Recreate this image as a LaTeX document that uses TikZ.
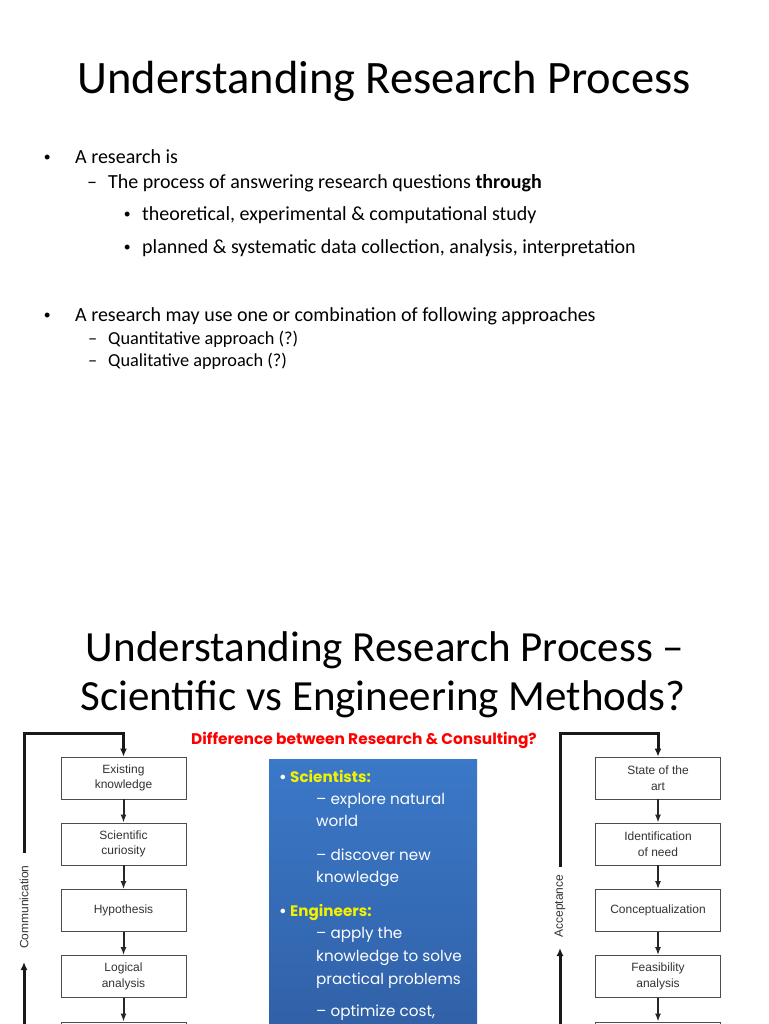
\documentclass[tikz,border=0pt]{standalone}
\usepackage{fontspec}
\setmainfont{Carlito}
\newfontfamily\arialf{Liberation Sans}
\newfontfamily\gothic{Poppins}
\usetikzlibrary{arrows.meta}
\definecolor{boxblueTop}{HTML}{3B78C8}
\definecolor{boxblueBot}{HTML}{3060A6}
\definecolor{labgray}{HTML}{333333}
\definecolor{ylw}{HTML}{F2F200}
\tikzset{
  stepbox/.style={draw=black!70, line width=0.8pt, minimum width=125pt, minimum height=42pt,
    font=\arialf\fontsize{12}{15.5}\selectfont, text=labgray, align=center, inner sep=0pt},
  arr/.style={draw=black!85, line width=2pt, -{Latex[length=8pt,width=6pt]}},
  fbarr/.style={draw=black!90, line width=3pt, -{Latex[length=8pt,width=7pt]}},
  sidelab/.style={rotate=90, font=\arialf\fontsize{12}{13}\selectfont, text=labgray, inner sep=0pt},
  body/.style={font=\fontsize{20}{24}\selectfont, anchor=base west, inner sep=0pt},
  small/.style={font=\fontsize{18.3}{22}\selectfont, anchor=base west, inner sep=0pt},
  dot/.style={font=\arialf\fontsize{18}{20}\selectfont, anchor=base west, inner sep=0pt},
  bluetxt/.style={font=\gothic\fontsize{15.2}{18}\selectfont, text=white, anchor=base west, inner sep=0pt},
  ylwtxt/.style={font=\gothic\bfseries\fontsize{15.2}{18}\selectfont, text=ylw, anchor=base west, inner sep=0pt},
}
\begin{document}
\begin{tikzpicture}[x=1pt,y=-1pt]
\useasboundingbox (0,0) rectangle (768,1024);
\clip (0,0) rectangle (768,1024);
\fill[white] (0,0) rectangle (768,1024);

% ---------- slide 1 ----------
\node[font=\fontsize{46.5}{56}\selectfont, inner sep=0pt] (t1) at (384,81) {Understanding Research Process};
\node[dot] (b1d) at (44,164) {•};
\node[body] (b1) at (75,164) {A research is};
\node[body] (b2d) at (87,189) {–};
\node[body] (b2) at (108,189) {The process of answering research questions \textbf{through}};
\node[dot] (b3d) at (124,221) {•};
\node[body] (b3) at (142,221) {theoretical, experimental \& computational study};
\node[dot] (b4d) at (124,253) {•};
\node[body] (b4) at (142,253) {planned \& systematic data collection, analysis, interpretation};
\node[dot] (b5d) at (44,321) {•};
\node[body] (b5) at (75,321) {A research may use one or combination of following approaches};
\node[small] (b6d) at (88,344) {–};
\node[small] (b6) at (108,344) {Quantitative approach (?)};
\node[small] (b7d) at (88,366) {–};
\node[small] (b7) at (108,366) {Qualitative approach (?)};

% ---------- slide 2 ----------
\node[font=\fontsize{43}{52}\selectfont, inner sep=0pt] (t2a) at (385,650) {Understanding Research Process –};
\node[font=\fontsize{43}{52}\selectfont, inner sep=0pt] (t2b) at (383,699) {Scientific vs Engineering Methods?};

\node[font=\gothic\bfseries\fontsize{15.4}{18}\selectfont, text=red, inner sep=0pt] (diff) at (364,740) {Difference between Research \& Consulting?};

% blue panel
\shade[top color=boxblueTop, bottom color=boxblueBot] (269,759) rectangle (477,1040);
\node[ylwtxt] (sd) at (279,782) {\textcolor{white}{•}};
\node[ylwtxt] (sc) at (290,782) {Scientists:};
\node[bluetxt] (s1) at (316,804) {– explore natural};
\node[bluetxt] (s2) at (316,826) {world};
\node[bluetxt] (s3) at (316,860) {– discover new};
\node[bluetxt] (s4) at (316,882) {knowledge};
\node[ylwtxt] (ed) at (279,916) {\textcolor{white}{•}};
\node[ylwtxt] (en) at (290,916) {Engineers:};
\node[bluetxt] (e1) at (316,938) {– apply the};
\node[bluetxt] (e2) at (316,961) {knowledge to solve};
\node[bluetxt] (e3) at (316,984) {practical problems};
\node[bluetxt] (e4) at (316,1016) {– optimize cost,};

% left flow (scientific)
\node[stepbox] (L1) at (123.5,778) {Existing\\knowledge};
\node[stepbox] (L2) at (123.5,844) {Scientific\\curiosity};
\node[stepbox] (L3) at (123.5,910.5) {Hypothesis};
\node[stepbox] (L4) at (123.5,976.5) {Logical\\analysis};
\node[stepbox] (L5) at (123.5,1043) {};
\draw[arr] (L1) -- (L2);
\draw[arr] (L2) -- (L3);
\draw[arr] (L3) -- (L4);
\draw[arr] (L4) -- (L5);
\node[sidelab] (comm) at (24,907) {Communication};
\coordinate (cTop) at (24,733);
\coordinate (cUp) at (24,853);
\coordinate (cBot) at (24,1030);
\coordinate (cTip) at (24,962);
\draw[fbarr] (cUp) -- (cTop) -| (L1.north);
\draw[fbarr] (cBot) -- (cTip);

% right flow (engineering)
\node[stepbox] (R1) at (658,778) {State of the\\art};
\node[stepbox] (R2) at (658,844) {Identification\\of need};
\node[stepbox] (R3) at (658,910.5) {Conceptualization};
\node[stepbox] (R4) at (658,976.5) {Feasibility\\analysis};
\node[stepbox] (R5) at (658,1043) {};
\draw[arr] (R1) -- (R2);
\draw[arr] (R2) -- (R3);
\draw[arr] (R3) -- (R4);
\draw[arr] (R4) -- (R5);
\node[sidelab] (acc) at (560,906) {Acceptance};
\coordinate (aTop) at (560,733);
\coordinate (aUp) at (560,867);
\coordinate (aBot) at (560,1030);
\coordinate (aTip) at (560,948);
\draw[fbarr] (aUp) -- (aTop) -| (R1.north);
\draw[fbarr] (aBot) -- (aTip);
\end{tikzpicture}
\end{document}
